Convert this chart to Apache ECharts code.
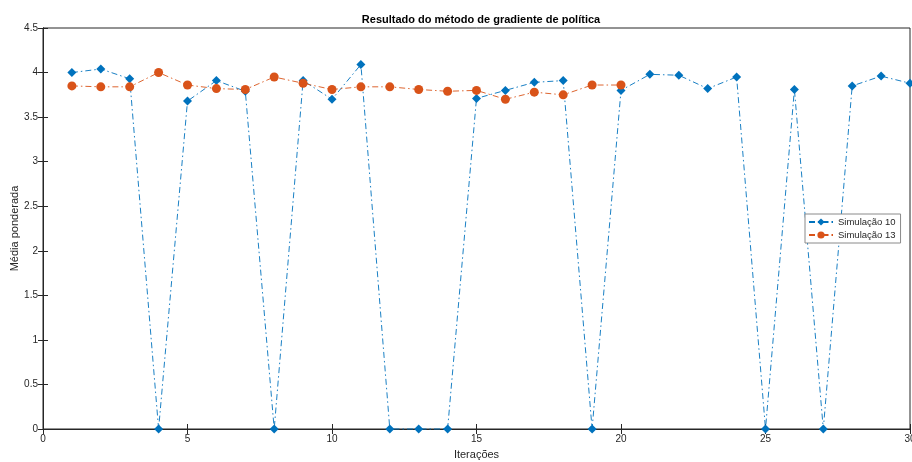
<!DOCTYPE html>
<html>
<head>
  <meta charset="utf-8">
  <title></title>
  <script src="https://cdn.jsdelivr.net/npm/echarts@6/dist/echarts.min.js" charset="utf-8"></script>
  <style>
    html, body { margin: 0; padding: 0; background: #fff; }
  </style>
</head>
<body>
  <div id="main" style="width:912px;height:462px;"></div>
  <script type="text/javascript">
    var iteracoes = [1,2,3,4,5,6,7,8,9,10,11,12,13,14,15,16,17,18,19,20,21,22,23,24,25,26,27,28,29,30];
    var sim10 = [4.00,4.04,3.93,0,3.68,3.91,3.79,0,3.91,3.70,4.09,0,0,0,3.71,3.80,3.89,3.91,0,3.80,3.98,3.97,3.82,3.95,0,3.81,0,3.85,3.96,3.88];
    var sim13 = [3.85,3.84,3.84,4.00,3.86,3.82,3.81,3.95,3.88,3.81,3.84,3.84,3.81,3.79,3.80,3.70,3.78,3.75,3.86,3.86];

    function pairs(ys) {
      return ys.map(function (y, i) { return [iteracoes[i], y]; });
    }

    var _font = 'Liberation Sans, Arial, sans-serif';
    var myChart = echarts.init(document.getElementById('main'));
    var dashDot = [6, 3, 1.5, 3];

    var option = {
      animation: false,
      backgroundColor: '#fff',
      title: {
        text: 'Resultado do método de gradiente de política',
        left: 476, top: 9, textAlign: 'center',
        textStyle: { fontFamily: _font, fontSize: 11, fontWeight: 'bold', color: '#000' }
      },
      legend: {
        orient: 'vertical',
        left: 805, top: 214,
        padding: [3, 5, 3, 3],
        itemGap: 3,
        itemWidth: 24, itemHeight: 9,
        borderColor: '#8a8a8a', borderWidth: 1,
        backgroundColor: '#fff',
        textStyle: { fontFamily: _font, fontSize: 9.5, color: '#262626' },
        data: ['Simulação 10', 'Simulação 13']
      },
      grid: { left: 43, right: 2, top: 28, bottom: 33, outerBoundsMode: 'none', containLabel: false, show: true, borderColor: '#262626', borderWidth: 1 },
      xAxis: [{
        type: 'value', min: 0, max: 30, interval: 5,
        name: 'Iterações', nameLocation: 'middle', nameGap: 20, nameMoveOverlap: false,
        nameTextStyle: { fontFamily: _font, fontSize: 11, color: '#262626' },
        axisLine: { onZero: false, lineStyle: { color: '#262626' } },
        axisTick: { inside: true, length: 5, lineStyle: { color: '#262626' } },
        axisLabel: { fontFamily: _font, fontSize: 10, color: '#262626', margin: 5 },
        splitLine: { show: false }
      }, {
        type: 'value', min: 0, max: 30, interval: 5, position: 'top',
        axisLine: { lineStyle: { color: '#262626' } },
        axisTick: { inside: true, length: 5, lineStyle: { color: '#262626' } },
        axisLabel: { show: false },
        splitLine: { show: false }
      }],
      yAxis: [{
        type: 'value', min: 0, max: 4.5, interval: 0.5,
        name: 'Média ponderada', nameLocation: 'middle', nameGap: 23, nameMoveOverlap: false,
        nameTextStyle: { fontFamily: _font, fontSize: 11, color: '#262626' },
        axisLine: { show: true, onZero: false, lineStyle: { color: '#262626' } },
        axisTick: { show: true, inside: true, length: 5, lineStyle: { color: '#262626' } },
        axisLabel: { fontFamily: _font, fontSize: 10, color: '#262626', margin: 5 },
        splitLine: { show: false }
      }, {
        type: 'value', min: 0, max: 4.5, interval: 0.5, position: 'right',
        axisLine: { show: true, lineStyle: { color: '#262626' } },
        axisTick: { show: true, inside: true, length: 5, lineStyle: { color: '#262626' } },
        axisLabel: { show: false },
        splitLine: { show: false }
      }],
      series: [{
        name: 'Simulação 10',
        type: 'line',
        data: pairs(sim10),
        symbol: 'diamond', symbolSize: 9,
        clip: false,
        color: '#0072BD',
        itemStyle: { color: '#0072BD' },
        lineStyle: { color: '#0072BD', width: 0.9, type: dashDot }
      }, {
        name: 'Simulação 13',
        type: 'line',
        data: pairs(sim13),
        symbol: 'circle', symbolSize: 9,
        clip: false,
        color: '#D95319',
        itemStyle: { color: '#D95319' },
        lineStyle: { color: '#D95319', width: 0.9, type: dashDot }
      }]
    };
    myChart.setOption(option);
  </script>
</body>
</html>
